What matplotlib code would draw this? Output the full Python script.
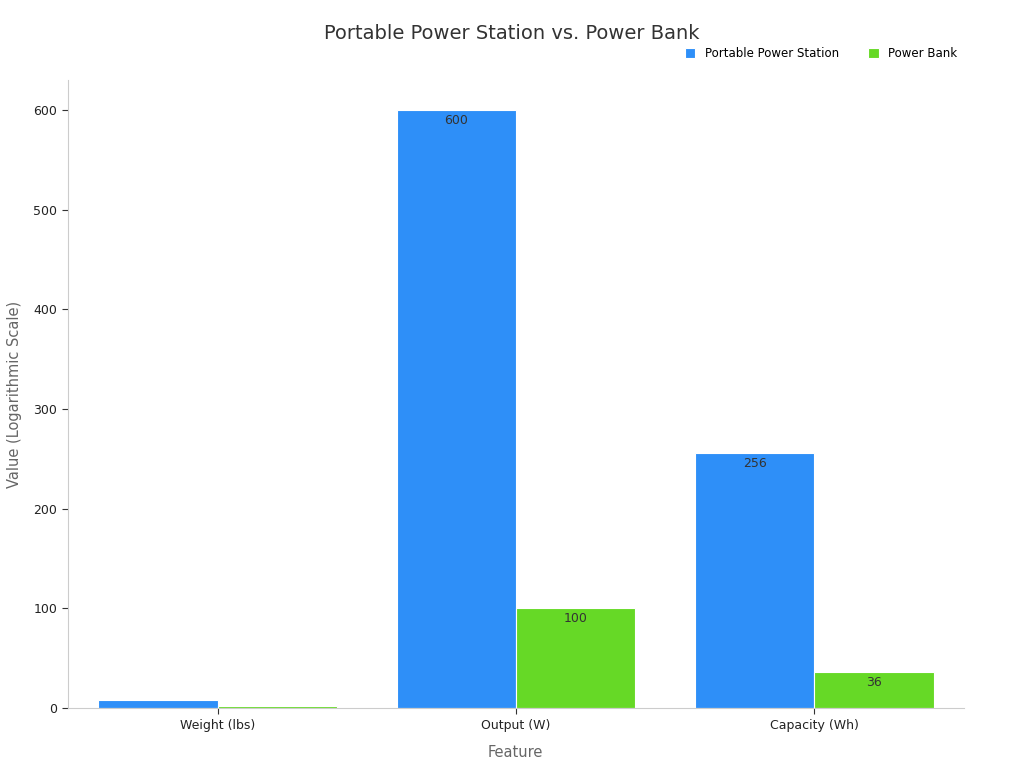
import matplotlib
matplotlib.use("Agg")
import matplotlib.pyplot as plt
import numpy as np

categories = ["Weight (lbs)", "Output (W)", "Capacity (Wh)"]
station = [8, 600, 256]
bank = [2, 100, 36]

fig = plt.figure(figsize=(10.24, 7.68), dpi=100)
ax = fig.add_axes([0.066, 0.078, 0.875, 0.818])
x = np.arange(len(categories))
w = 0.4
b1 = ax.bar(x - w/2, station, w, color="#2e8ff8", edgecolor="white", linewidth=0.8, label="Portable Power Station")
b2 = ax.bar(x + w/2, bank, w, color="#66d926", edgecolor="white", linewidth=0.8, label="Power Bank")
for bars, vals in ((b1, station), (b2, bank)):
    for r, v in zip(bars, vals):
        if v > 10:
            ax.text(r.get_x() + r.get_width()/2, v - 4, str(v), ha="center", va="top", fontsize=9, color="#333333")
ax.set_xticks(x)
ax.set_xticklabels(categories, fontsize=9, color="#222222")
ax.set_xlim(-0.503, 2.5)
ax.set_ylim(0, 630)
ax.set_yticks([0, 100, 200, 300, 400, 500, 600])
ax.tick_params(axis="y", labelsize=9, length=4, color="#333333", labelcolor="#222222")
ax.tick_params(axis="x", length=4, color="#333333")
for s in ["top", "right"]:
    ax.spines[s].set_visible(False)
for s in ["left", "bottom"]:
    ax.spines[s].set_color("#cccccc")
ax.set_xlabel("Feature", fontsize=10.5, color="#666666", labelpad=10)
ax.set_ylabel("Value (Logarithmic Scale)", fontsize=10.5, color="#666666", labelpad=8)
fig.text(0.5, 0.957, "Portable Power Station vs. Power Bank", ha="center", va="center", fontsize=14, color="#333333")
ax.legend(loc="lower right", bbox_to_anchor=(1.005, 1.015), ncol=2, frameon=False, fontsize=8.5, handlelength=0.9, handleheight=0.9, columnspacing=2.5)
fig.savefig("out.png")
